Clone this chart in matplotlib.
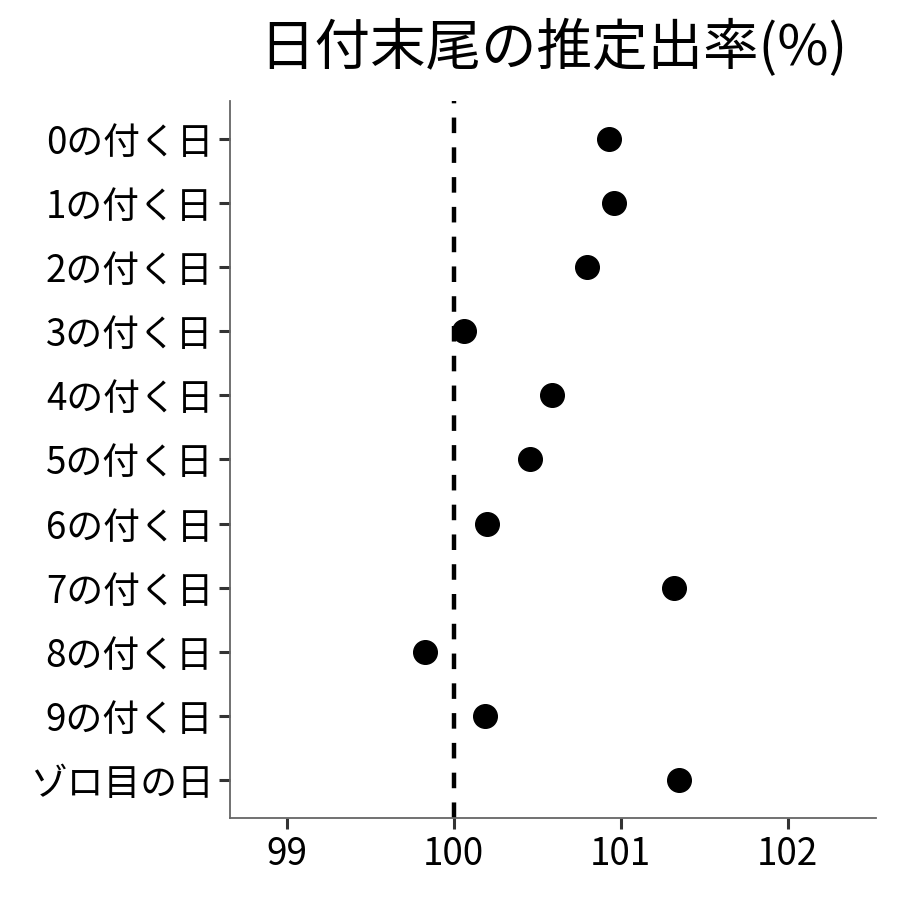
import matplotlib
matplotlib.use("Agg")
import matplotlib.pyplot as plt

plt.rcParams['font.family'] = ['Noto Sans CJK JP', 'DejaVu Sans']

categories = ["0の付く日", "1の付く日", "2の付く日", "3の付く日", "4の付く日",
              "5の付く日", "6の付く日", "7の付く日", "8の付く日", "9の付く日", "ゾロ目の日"]
values = [100.93, 100.96, 100.80, 100.06, 100.59, 100.46, 100.20, 101.32, 99.83, 100.19, 101.35]
xticks = [99, 100, 101, 102]
title = "日付末尾の推定出率(%)"

fig = plt.figure(figsize=(9, 9), dpi=100)
ax = fig.add_axes([0.2556, 0.0911, 0.7177, 0.7967])

ypos = list(range(len(categories)))
ax.axvline(100, color='black', linestyle=(0, (3.5, 3.2)), linewidth=3.2, zorder=1)
ax.plot(values, ypos, 'o', color='black', markersize=17, zorder=2, linestyle='none')

ax.set_yticks(ypos)
ax.set_yticklabels(categories, fontsize=26.5)
ax.set_ylim(len(categories) - 1 + 0.6, -0.6)
ax.set_xlim(98.66, 102.53)
ax.set_xticks(xticks)
ax.set_xticklabels([str(t) for t in xticks], fontsize=26.5)

for s in ['top', 'right']:
    ax.spines[s].set_visible(False)
for s in ['left', 'bottom']:
    ax.spines[s].set_color('#666666')
    ax.spines[s].set_linewidth(1.3)
ax.tick_params(axis='both', colors='#333333', length=8, width=2.2, labelcolor='black', pad=4)

ax.set_title(title, fontsize=40, pad=26)

fig.savefig("out.png", dpi=100, facecolor='white')
